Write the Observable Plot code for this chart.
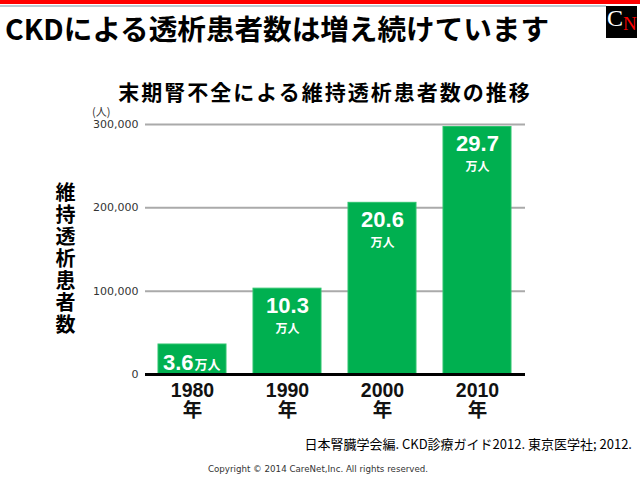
<!DOCTYPE html>
<html><head><meta charset="utf-8">
<script src="https://cdn.jsdelivr.net/npm/d3@7"></script>
<script src="https://cdn.jsdelivr.net/npm/@observablehq/plot@0.6"></script>
<style>
html,body{margin:0;padding:0;background:#fff;}
#page{position:relative;width:640px;height:480px;overflow:hidden;font-family:"DejaVu Sans","Noto Sans CJK JP",sans-serif;}
.abs{position:absolute;white-space:nowrap;}
#chart{position:absolute;left:0;top:0;}
</style></head>
<body><div id="page">
<div class="abs" style="left:0;top:0;width:640px;height:4px;background:#ff0000;"></div>
<div class="abs" style="left:0;top:5px;width:606px;height:2px;background:#b9cbd3;"></div>
<div class="abs" style="left:606px;top:6px;width:31px;height:32px;background:#000;"></div>
<div class="abs" style="left:607px;top:5px;font-family:'Liberation Serif',serif;font-size:24px;line-height:27px;color:#fff;">C</div>
<div class="abs" style="left:623px;top:13px;font-family:'Liberation Serif',serif;font-size:19px;line-height:22px;color:#ff0000;">N</div>
<div class="abs" id="title" style="left:5px;top:7px;font-size:28.6px;font-weight:bold;color:#000;font-family:'Noto Sans CJK JP',sans-serif;">CKDによる透析患者数は増え続けています</div>
<div id="chart"></div>
<div class="abs" id="ctitle" style="left:0;width:650px;text-align:center;top:76px;font-size:21px;font-weight:bold;font-family:'Noto Sans CJK JP',sans-serif;letter-spacing:2px;">末期腎不全による維持透析患者数の推移</div>
<div class="abs" style="left:92px;top:103px;font-size:11px;color:#333;font-family:'Noto Sans CJK JP',sans-serif;">(人)</div>
<div class="abs" id="ylab" style="left:53px;top:182px;font-size:20px;line-height:24px;letter-spacing:2px;font-weight:bold;font-family:'Noto Sans CJK JP',sans-serif;writing-mode:vertical-rl;text-orientation:upright;"></div>
<div class="abs" id="src" style="right:8px;top:434px;font-size:13px;color:#000;font-family:'Noto Sans CJK JP',sans-serif;">日本腎臓学会編. CKD診療ガイド2012. 東京医学社; 2012.</div>
<div class="abs" style="left:0;width:636px;text-align:center;top:464px;font-size:8.7px;color:#333;font-family:'DejaVu Sans',sans-serif;">Copyright © 2014 CareNet,Inc. All rights reserved.</div>
</div>
<script>
const years = ["1980", "1990", "2000", "2010"];
const patients = [36000, 103000, 206000, 297000];
const valueLabels = ["3.6", "10.3", "20.6", "29.7"];
const unitLabel = "万人";
const yearSuffix = "年";
const yTicks = [0, 100000, 200000, 300000];
const yTitle = "維持透析患者数";

document.getElementById("ylab").textContent = yTitle;

const data = years.map((y, i) => ({year: y, value: patients[i], label: valueLabels[i]}));
const big = data.filter(d => d.value >= 50000);
const small = data.filter(d => d.value < 50000);

const fontNum = "'Liberation Sans','Noto Sans CJK JP',sans-serif";
const plot = Plot.plot({
  width: 640, height: 480,
  marginLeft: 145, marginRight: 115, marginTop: 124, marginBottom: 106,
  x: {domain: years, paddingInner: 0.28, paddingOuter: 0.14, label: null},
  y: {domain: [0, 300000], label: null},
  style: {fontFamily: fontNum, background: "transparent", overflow: "visible"},
  marks: [
    Plot.gridY(yTicks.slice(1), {stroke: "#aaaaaa", strokeOpacity: 1, strokeWidth: 2}),
    Plot.barY(data, {x: "year", y: "value", fill: "#00b050", stroke: "#2cc46c", strokeWidth: 1}),
    Plot.ruleY([0], {stroke: "#000", strokeWidth: 3}),
    Plot.axisY({ticks: yTicks, tickSize: 0, tickPadding: 7, fontSize: 11, fill: "#333", label: null,
      fontFamily: "'DejaVu Sans',sans-serif", tickFormat: d3.format(",")}),
    Plot.axisX({tickSize: 0, tickPadding: 8, fontSize: 19.5, fontWeight: "bold", fill: "#111", label: null,
      lineHeight: 1.02, tickFormat: d => d + "\n" + yearSuffix}),
    Plot.text(big, {x: "year", y: "value", text: "label", dy: 17, fill: "white", fontSize: 22, fontWeight: "bold"}),
    Plot.text(big, {x: "year", y: "value", text: () => unitLabel, dy: 40, fill: "white", fontSize: 12, fontWeight: "bold",
      fontFamily: "'Noto Sans CJK JP',sans-serif"}),
    Plot.text(small, {x: "year", y: "value", text: "label", dy: 18, dx: 1, textAnchor: "end", fill: "white", fontSize: 22, fontWeight: "bold"}),
    Plot.text(small, {x: "year", y: "value", text: () => unitLabel, dy: 20, dx: 2, textAnchor: "start", fill: "white", fontSize: 13, fontWeight: "bold",
      fontFamily: "'Noto Sans CJK JP',sans-serif"})
  ]
});
document.getElementById("chart").appendChild(plot);
</script>
</body></html>
